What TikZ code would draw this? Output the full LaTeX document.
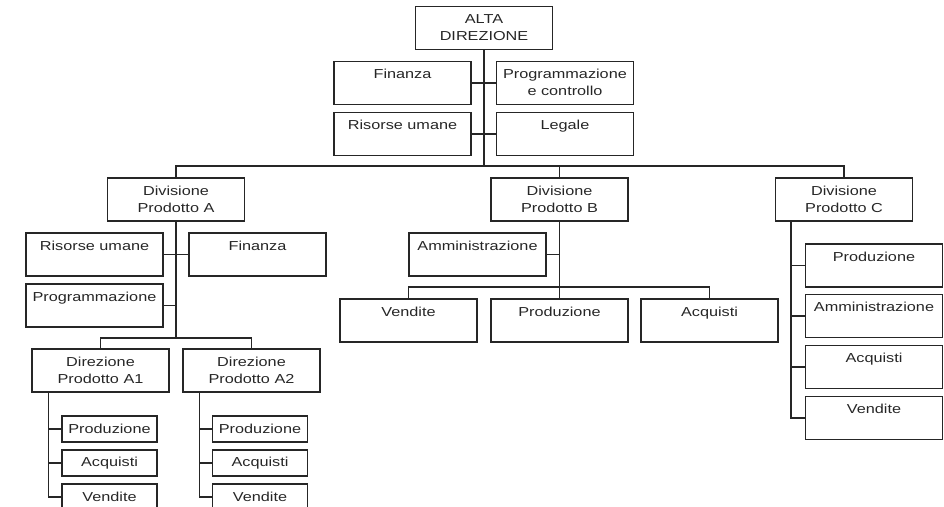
\documentclass[tikz,border=0pt]{standalone}
\usepackage{fontspec}
\setmainfont[FakeStretch=1.25]{Liberation Sans}
\newcommand{\toptext}[1]{\parbox[c][43pt][t]{137pt}{\centering\rule{0pt}{17pt}#1}}

\begin{document}
\begin{tikzpicture}
[x=1pt,y=-1pt,line width=1.2pt,color=black!85,
 unit/.style={draw,inner sep=0pt,font=\fontsize{13}{17}\selectfont},
 small/.style={unit,minimum width=95pt,minimum height=26pt}]
\useasboundingbox (0,0) rectangle (944,506);
\clip (0,0) rectangle (944,506);

\node[unit] (alta) at (484,28) {\toptext{ALTA\\DIREZIONE}};
\node[unit] (fin) at (402.5,83) {\toptext{Finanza}};
\node[unit] (prog) at (565,83) {\toptext{Programmazione\\e controllo}};
\node[unit] (ris) at (402.5,134) {\toptext{Risorse umane}};
\node[unit] (leg) at (565,134) {\toptext{Legale}};

\node[unit] (divA) at (176,199.5) {\toptext{Divisione\\Prodotto A}};
\node[unit] (risA) at (94.5,254.5) {\toptext{Risorse umane}};
\node[unit] (finA) at (257.5,254.5) {\toptext{Finanza}};
\node[unit] (progA) at (94.5,305.5) {\toptext{Programmazione}};
\node[unit] (dirA1) at (100.5,370.5) {\toptext{Direzione\\Prodotto A1}};
\node[unit] (dirA2) at (251.5,370.5) {\toptext{Direzione\\Prodotto A2}};
\node[small] (a1pro) at (109.5,429) {Produzione};
\node[small] (a1acq) at (109.5,463) {Acquisti};
\node[small] (a1ven) at (109.5,497) {Vendite};
\node[small] (a2pro) at (260,429) {Produzione};
\node[small] (a2acq) at (260,463) {Acquisti};
\node[small] (a2ven) at (260,497) {Vendite};

\node[unit] (divB) at (559.5,199.5) {\toptext{Divisione\\Prodotto B}};
\node[unit] (ammB) at (477.5,254.5) {\toptext{Amministrazione}};
\node[unit] (venB) at (408.5,320.5) {\toptext{Vendite}};
\node[unit] (proB) at (559.5,320.5) {\toptext{Produzione}};
\node[unit] (acqB) at (709.5,320.5) {\toptext{Acquisti}};

\node[unit] (divC) at (844,199.5) {\toptext{Divisione\\Prodotto C}};
\node[unit] (proC) at (874,265.5) {\toptext{Produzione}};
\node[unit] (ammC) at (874,316) {\toptext{Amministrazione}};
\node[unit] (acqC) at (874,367) {\toptext{Acquisti}};
\node[unit] (venC) at (874,418) {\toptext{Vendite}};

\coordinate (bus) at (484,166);
\coordinate (subA) at (176,338);
\coordinate (busB) at (559.5,287);

\draw (alta) -- (bus);
\draw (fin.east) -- (prog.west) (ris.east) -- (leg.west);
\draw (divA) |- (bus) -| (divC);
\draw (divB) -- (divB |- bus);

\draw (divA) -- (subA);
\draw (risA.east) -- (finA.west) (progA) -- (progA -| subA);
\draw (dirA1) |- (subA) -| (dirA2);
\draw (dirA1.south west) ++(17,0) |- (a1ven.west);
\draw (dirA2.south west) ++(17,0) |- (a2ven.west);
\foreach \n in {a1pro,a1acq,a2pro,a2acq}
  \draw (\n.west) -- ++(-13,0);

\draw (divB) -- (proB);
\draw (ammB) -- (ammB -| divB);
\draw (venB) |- (busB) -| (acqB);

\draw (divC.south west) ++(16,0) |- (venC.west);
\foreach \n in {proC,ammC,acqC}
  \draw (\n.west) -- ++(-14,0);
\end{tikzpicture}
\end{document}
